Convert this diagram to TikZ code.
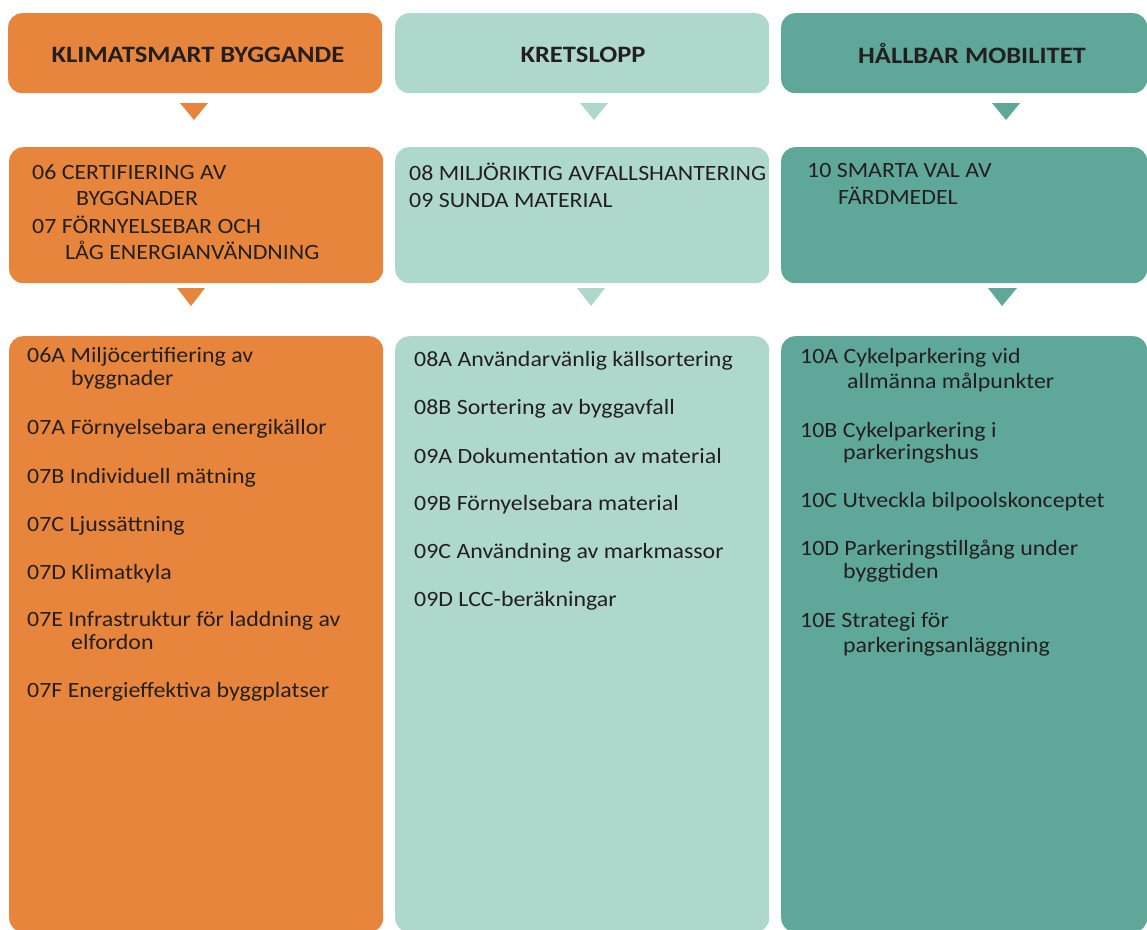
\documentclass[tikz,border=0pt]{standalone}
\usepackage{fontspec}
\setmainfont{Carlito}
\newfontfamily\bodyfont[FakeStretch=1.095]{Carlito}
\newfontfamily\headfont[FakeStretch=1.13]{Carlito-Bold}
\definecolor{corange}{RGB}{232,133,61}
\definecolor{cmint}{RGB}{174,216,204}
\definecolor{cteal}{RGB}{95,168,153}
\definecolor{ctext}{RGB}{35,31,32}
\tikzset{
  panel/.style={rounded corners=14pt, inner sep=0pt, draw=none, anchor=north west},
  headtxt/.style={font=\headfont\fontsize{23.5}{27}\selectfont, text=ctext, inner sep=0pt, anchor=base},
  itemtxt/.style={font=\bodyfont\fontsize{21.8}{25}\selectfont, text=ctext, inner sep=0pt, anchor=base west}
}
\begin{document}
\begin{tikzpicture}[x=1pt,y=-1pt]
\useasboundingbox (0,0) rectangle (1147,929);
\clip (0,0) rectangle (1147,929);
% header boxes
\node[panel, fill=corange, minimum width=374pt, minimum height=80pt] (h1) at (8,13) {};
\node[panel, fill=cmint, minimum width=374pt, minimum height=80pt] (h2) at (395,13) {};
\node[panel, fill=cteal, minimum width=366pt, minimum height=80pt] (h3) at (781,13) {};
\node[headtxt] (h1t) at (198,62) {KLIMATSMART BYGGANDE};
\node[headtxt] (h2t) at (583,62) {KRETSLOPP};
\node[headtxt] (h3t) at (972,63) {HÅLLBAR MOBILITET};
% first triangles
\fill[corange] (180,103) -- (208,103) -- (194,120) -- cycle;
\fill[cmint] (580,103) -- (608,103) -- (594,120) -- cycle;
\fill[cteal] (992,103) -- (1020,103) -- (1006,120) -- cycle;
% second row boxes
\node[panel, fill=corange, minimum width=374pt, minimum height=136pt] (m1) at (9,147) {};
\node[panel, fill=cmint, minimum width=374pt, minimum height=136pt] (m2) at (395,147) {};
\node[panel, fill=cteal, minimum width=366pt, minimum height=136pt] (m3) at (781,147) {};
\node[itemtxt] (m1a) at (32,179) {06 CERTIFIERING AV};
\node[itemtxt] (m1b) at (76,205) {BYGGNADER};
\node[itemtxt] (m1c) at (32,233) {07 FÖRNYELSEBAR OCH};
\node[itemtxt] (m1d) at (65,259) {LÅG ENERGIANVÄNDNING};
\node[itemtxt] (m2a) at (409,180) {08 MILJÖRIKTIG AVFALLSHANTERING};
\node[itemtxt] (m2b) at (409,207) {09 SUNDA MATERIAL};
\node[itemtxt] (m3a) at (807,177) {10 SMARTA VAL AV};
\node[itemtxt] (m3b) at (838,204) {FÄRDMEDEL};
% second triangles
\fill[corange] (177,288) -- (205,288) -- (191,306) -- cycle;
\fill[cmint] (577,288) -- (605,288) -- (591,306) -- cycle;
\fill[cteal] (988,288) -- (1017,288) -- (1002,306) -- cycle;
% third row boxes
\node[panel, fill=corange, minimum width=374pt, minimum height=596pt] (b1) at (9,336) {};
\node[panel, fill=cmint, minimum width=374pt, minimum height=596pt] (b2) at (395,336) {};
\node[panel, fill=cteal, minimum width=366pt, minimum height=596pt] (b3) at (781,336) {};
% left items
\node[itemtxt] (l1) at (27,362) {06A Miljöcertifiering av};
\node[itemtxt] (l1b) at (71,385) {byggnader};
\node[itemtxt] (l2) at (27,434) {07A Förnyelsebara energikällor};
\node[itemtxt] (l3) at (27,483) {07B Individuell mätning};
\node[itemtxt] (l4) at (27,531) {07C Ljussättning};
\node[itemtxt] (l5) at (27,579) {07D Klimatkyla};
\node[itemtxt] (l6) at (27,626) {07E Infrastruktur för laddning av};
\node[itemtxt] (l6b) at (71,649) {elfordon};
\node[itemtxt] (l7) at (27,697) {07F Energieffektiva byggplatser};
% middle items
\node[itemtxt] (c1) at (414,366) {08A Användarvänlig källsortering};
\node[itemtxt] (c2) at (414,414) {08B Sortering av byggavfall};
\node[itemtxt] (c3) at (414,463) {09A Dokumentation av material};
\node[itemtxt] (c4) at (414,510) {09B Förnyelsebara material};
\node[itemtxt] (c5) at (414,558) {09C Användning av markmassor};
\node[itemtxt] (c6) at (414,606) {09D LCC-beräkningar};
% right items
\node[itemtxt] (r1) at (800,363) {10A Cykelparkering vid};
\node[itemtxt] (r1b) at (847,388) {allmänna målpunkter};
\node[itemtxt] (r2) at (800,437) {10B Cykelparkering i};
\node[itemtxt] (r2b) at (843,459) {parkeringshus};
\node[itemtxt] (r3) at (800,507) {10C Utveckla bilpoolskonceptet};
\node[itemtxt] (r4) at (800,555) {10D Parkeringstillgång under};
\node[itemtxt] (r4b) at (843,578) {byggtiden};
\node[itemtxt] (r5) at (800,627) {10E Strategi för};
\node[itemtxt] (r5b) at (843,652) {parkeringsanläggning};
\end{tikzpicture}
\end{document}
